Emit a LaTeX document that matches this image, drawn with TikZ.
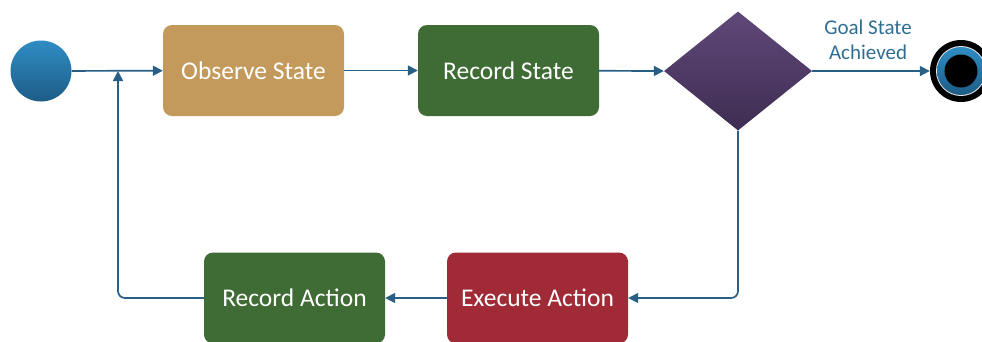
\documentclass[tikz,border=0pt]{standalone}
\usepackage{fontspec}
\setmainfont{Carlito}
\usetikzlibrary{shapes.geometric,arrows.meta}
\definecolor{lineblue}{HTML}{2A5F85}
\definecolor{txtblue}{HTML}{2F6E93}
\definecolor{boxtan}{HTML}{C39A5C}
\definecolor{boxgreen}{HTML}{3F6B35}
\definecolor{boxred}{HTML}{A02A36}
\definecolor{purtop}{HTML}{604879}
\definecolor{purbot}{HTML}{3E2D52}
\definecolor{bltop}{HTML}{2E8DC4}
\definecolor{blbot}{HTML}{1E5C86}
\begin{document}
\begin{tikzpicture}[x=1pt,y=-1pt,
  stepbox/.style={rounded corners=9pt,minimum width=181pt,minimum height=91pt,
    text=white,font=\fontsize{25.5}{30}\selectfont,inner sep=0pt},
  conn/.style={draw=lineblue,line width=1.7pt,-{Triangle[length=10pt,width=10pt]}},
  plain/.style={draw=lineblue,line width=1.7pt,rounded corners=7pt}]
\useasboundingbox (0,0) rectangle (982,341);
\node[circle,minimum size=61pt,inner sep=0pt,top color=bltop,bottom color=blbot] (start) at (41,71) {};
\node[stepbox,fill=boxtan] (obs) at (253.5,70.5) {Observe State};
\node[stepbox,fill=boxgreen] (rec) at (508.5,70.5) {Record State};
\node[diamond,minimum width=148pt,minimum height=119pt,inner sep=0pt,shape aspect=1.24,top color=purtop,bottom color=purbot] (dec) at (738,71) {};
\node[circle,minimum size=62pt,inner sep=0pt,fill=black] (endo) at (961,71) {};
\node[circle,minimum size=50pt,inner sep=0pt,fill=white!80!gray] (endg) at (961,71) {};
\node[circle,minimum size=48pt,inner sep=0pt,top color=bltop,bottom color=blbot] (endm) at (961,71) {};
\node[circle,minimum size=33pt,inner sep=0pt,fill=black] (endi) at (961,71) {};
\node[stepbox,fill=boxgreen] (ra) at (294.5,298) {Record Action};
\node[stepbox,fill=boxred] (ea) at (537.5,298) {Execute Action};
\node[text=txtblue,font=\fontsize{21}{25}\selectfont,align=center] (lbl) at (868,40) {Goal State\\Achieved};
\coordinate (merge) at (118,71);
\coordinate (c1) at (738,298);
\coordinate (c2) at (118,298);
\draw[conn] (start) -- (obs);
\draw[conn] (obs) -- (rec);
\draw[conn] (rec) -- (dec.west);
\draw[conn] (dec.east) -- (endo);
\draw[plain,-{Triangle[length=10pt,width=10pt]}] (dec.south) -- (c1) -- (ea.east);
\draw[conn] (ea) -- (ra);
\draw[plain,-{Triangle[length=10pt,width=10pt]}] (ra.west) -- (c2) -- (merge);
\end{tikzpicture}
\end{document}
